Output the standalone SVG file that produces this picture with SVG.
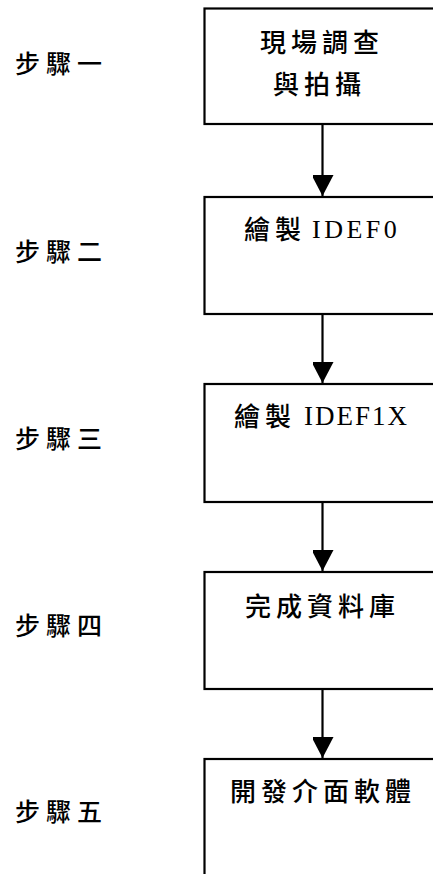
<svg xmlns="http://www.w3.org/2000/svg" width="433" height="874" viewBox="0 0 433 874">
<style>
.box{fill:#fff;stroke:#000;stroke-width:2.2}
.lbl{font-family:"Noto Sans CJK TC",sans-serif;font-size:25px;font-weight:500;letter-spacing:6px;fill:#000}
.cj{font-family:"Noto Sans CJK TC",sans-serif;font-size:26px;font-weight:500;letter-spacing:5px;fill:#000}
.lat{font-family:"Liberation Serif",serif;font-size:26px;letter-spacing:3.5px;fill:#000}
.ln{stroke:#000;stroke-width:2.2;fill:none}
</style>
<defs>
<marker id="ah" markerUnits="userSpaceOnUse" markerWidth="22" markerHeight="21" refX="21" refY="11" orient="auto">
<path d="M0,0 L21,11 L0,22 Z" fill="#000"/>
</marker>
</defs>
<rect width="433" height="874" fill="#fff"/>
<g id="labels">
<text class="lbl" x="15" y="73">步驟一</text>
<text class="lbl" x="15" y="261">步驟二</text>
<text class="lbl" x="15" y="448">步驟三</text>
<text class="lbl" x="15" y="635">步驟四</text>
<text class="lbl" x="15" y="821">步驟五</text>
</g>
<g id="node1">
<rect class="box" x="204.5" y="8.5" width="240" height="115.5"/>
<text class="cj" x="260" y="52">現場調查</text>
<text class="cj" x="273" y="94">與拍攝</text>
</g>
<g id="node2">
<rect class="box" x="204.5" y="197" width="240" height="117"/>
<text class="cj" x="244" y="239">繪製</text>
<text class="lat" x="312" y="238">IDEF0</text>
</g>
<g id="node3">
<rect class="box" x="204.5" y="384" width="240" height="118"/>
<text class="cj" x="234" y="426">繪製</text>
<text class="lat" x="304" y="425" style="font-size:27px;letter-spacing:2px">IDEF1X</text>
</g>
<g id="node4">
<rect class="box" x="204.5" y="572" width="240" height="117"/>
<text class="cj" x="245" y="616">完成資料庫</text>
</g>
<g id="node5">
<rect class="box" x="204.5" y="759" width="240" height="130"/>
<text class="cj" x="230" y="801">開發介面軟體</text>
</g>
<g id="connectors">
<line class="ln" x1="322.5" y1="124" x2="322.5" y2="196" marker-end="url(#ah)"/>
<line class="ln" x1="322.5" y1="314" x2="322.5" y2="383" marker-end="url(#ah)"/>
<line class="ln" x1="322.5" y1="502" x2="322.5" y2="571" marker-end="url(#ah)"/>
<line class="ln" x1="322.5" y1="689" x2="322.5" y2="758" marker-end="url(#ah)"/>
</g>
</svg>
